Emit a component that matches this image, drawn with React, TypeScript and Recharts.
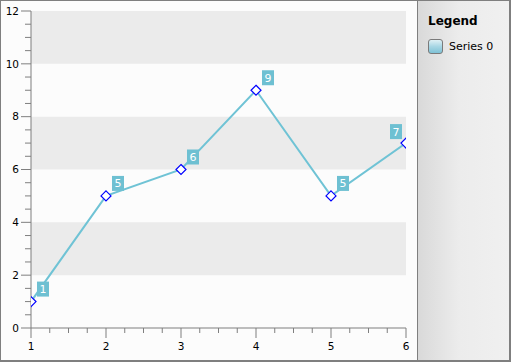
import React from "react";
import {
  LineChart,
  Line,
  XAxis,
  YAxis,
  ReferenceArea,
  Legend,
} from "recharts";

// values
const categories = [1, 2, 3, 4, 5, 6];
const seriesValues = [1, 5, 6, 9, 5, 7];
const xMajorTicks = [1, 2, 3, 4, 5, 6];
const yMajorTicks = [0, 2, 4, 6, 8, 10, 12];
const bandRanges = [
  [2, 4],
  [6, 8],
  [10, 12],
];
const seriesName = "Series 0";
const legendTitle = "Legend";

const data = categories.map((c, i) => ({ x: c, value: seriesValues[i] }));

// minor ticks: quarters on x, halves on y
const subdivide = (majors: number[], parts: number) => {
  const out: number[] = [];
  majors.forEach((m, i) => {
    out.push(m);
    if (i < majors.length - 1) {
      const step = (majors[i + 1] - m) / parts;
      for (let k = 1; k < parts; k++) out.push(m + step * k);
    }
  });
  return out;
};
const xTicks = subdivide(xMajorTicks, 4);
const yTicks = subdivide(yMajorTicks, 4);

const CHART_W = 508;
const CHART_H = 359;
const PLOT_RIGHT = 405;
const LEGEND_W = 92;

const AXIS_COLOR = "#7f7f7f";
const LINE_COLOR = "#6fc3d5";
const FONT = "'DejaVu Sans', Verdana, sans-serif";

const XTick = (props: any) => {
  const { x, y, payload } = props;
  const major = xMajorTicks.includes(payload.value);
  return (
    <g>
      <line x1={x} x2={x} y1={y} y2={y + (major ? 10 : 5)} stroke={AXIS_COLOR} />
      {major && (
        <text x={x} y={y + 15} dy="0.71em" textAnchor="middle" fill="#000" fontSize={10.5}>
          {payload.value}
        </text>
      )}
    </g>
  );
};

const YTick = (props: any) => {
  const { x, y, payload } = props;
  const major = yMajorTicks.includes(payload.value);
  return (
    <g>
      <line x1={x - (major ? 10 : 6)} x2={x} y1={y} y2={y} stroke={AXIS_COLOR} />
      {major && (
        <text x={x - 12} y={y} dy="0.355em" textAnchor="end" fill="#000" fontSize={10.5}>
          {payload.value}
        </text>
      )}
    </g>
  );
};

const Diamond = (props: any) => {
  const { cx, cy, index } = props;
  const r = 5;
  return (
    <polygon
      key={`d-${index}`}
      points={`${cx},${cy - r} ${cx + r},${cy} ${cx},${cy + r} ${cx - r},${cy}`}
      fill="#fff"
      stroke="#0000ff"
      strokeWidth={1.2}
    />
  );
};

const ValueLabel = (props: any) => {
  const px = props.x ?? props.viewBox?.x;
  const py = props.y ?? props.viewBox?.y;
  const w = 12;
  const h = 15;
  const flip = px + 6 + w > PLOT_RIGHT;
  const bx = flip ? px - 4 - w : px + 6;
  const by = flip ? py - 19 : py - 20;
  return (
    <g>
      <rect x={bx} y={by} width={w} height={h} fill="#6ec0d2" />
      <text
        x={bx + w / 2}
        y={by + h / 2}
        dy="0.36em"
        textAnchor="middle"
        fill="#fff"
        fontSize={11}
      >
        {props.value}
      </text>
    </g>
  );
};

const LegendPanel = () => (
  <div
    style={{
      boxSizing: "border-box",
      width: LEGEND_W,
      height: CHART_H,
      borderLeft: `1px solid ${AXIS_COLOR}`,
      background: "linear-gradient(to right, #d9d9d9, #ececec 45%, #f0f0f0)",
      padding: "12px 0 0 10px",
      fontFamily: FONT,
      textAlign: "left",
    }}
  >
    <div style={{ fontWeight: "bold", fontSize: 12, color: "#000", lineHeight: "16px" }}>
      {legendTitle}
    </div>
    <div style={{ display: "flex", alignItems: "center", marginTop: 10 }}>
      <div
        style={{
          boxSizing: "border-box",
          width: 15,
          height: 15,
          border: "1px solid #7a7a7a",
          borderRadius: 3,
          background: "linear-gradient(to bottom, #dff0f5, #a7d6e4 50%, #7fc2d6)",
        }}
      />
      <span style={{ fontSize: 11, marginLeft: 6, color: "#000" }}>{seriesName}</span>
    </div>
  </div>
);

export default function App() {
  return (
    <div
      style={{
        position: "absolute",
        left: 0,
        top: 0,
        width: 511,
        height: 362,
        boxSizing: "border-box",
        borderStyle: "solid",
        borderColor: AXIS_COLOR,
        borderWidth: "1px 2px 2px 1px",
        background: "#fcfcfc",
        fontFamily: FONT,
      }}
    >
      <LineChart
        width={CHART_W}
        height={CHART_H}
        data={data}
        margin={{ top: 10, right: 11, bottom: 0, left: 0 }}
      >
        {bandRanges.map(([a, b]) => (
          <ReferenceArea
            key={`band-${a}`}
            y1={a}
            y2={b}
            fill="#ebebeb"
            fillOpacity={1}
            stroke="none"
          />
        ))}
        <XAxis
          dataKey="x"
          type="number"
          domain={[1, 6]}
          ticks={xTicks}
          interval={0}
          height={32}
          tickSize={0}
          tickMargin={0}
          tickLine={false}
          tick={<XTick />}
          axisLine={{ stroke: AXIS_COLOR }}
          allowDataOverflow
        />
        <YAxis
          type="number"
          domain={[0, 12]}
          ticks={yTicks}
          interval={0}
          width={30}
          tickSize={0}
          tickMargin={0}
          tickLine={false}
          tick={<YTick />}
          axisLine={{ stroke: AXIS_COLOR }}
          allowDataOverflow
        />
        <Legend
          layout="vertical"
          align="right"
          verticalAlign="top"
          content={<LegendPanel />}
          wrapperStyle={{ left: 416, top: 0, right: "auto", width: LEGEND_W, height: CHART_H }}
        />
        <Line
          type="linear"
          dataKey="value"
          name={seriesName}
          stroke={LINE_COLOR}
          strokeWidth={2}
          dot={Diamond}
          activeDot={false}
          label={ValueLabel}
          isAnimationActive={false}
        />
      </LineChart>
    </div>
  );
}
